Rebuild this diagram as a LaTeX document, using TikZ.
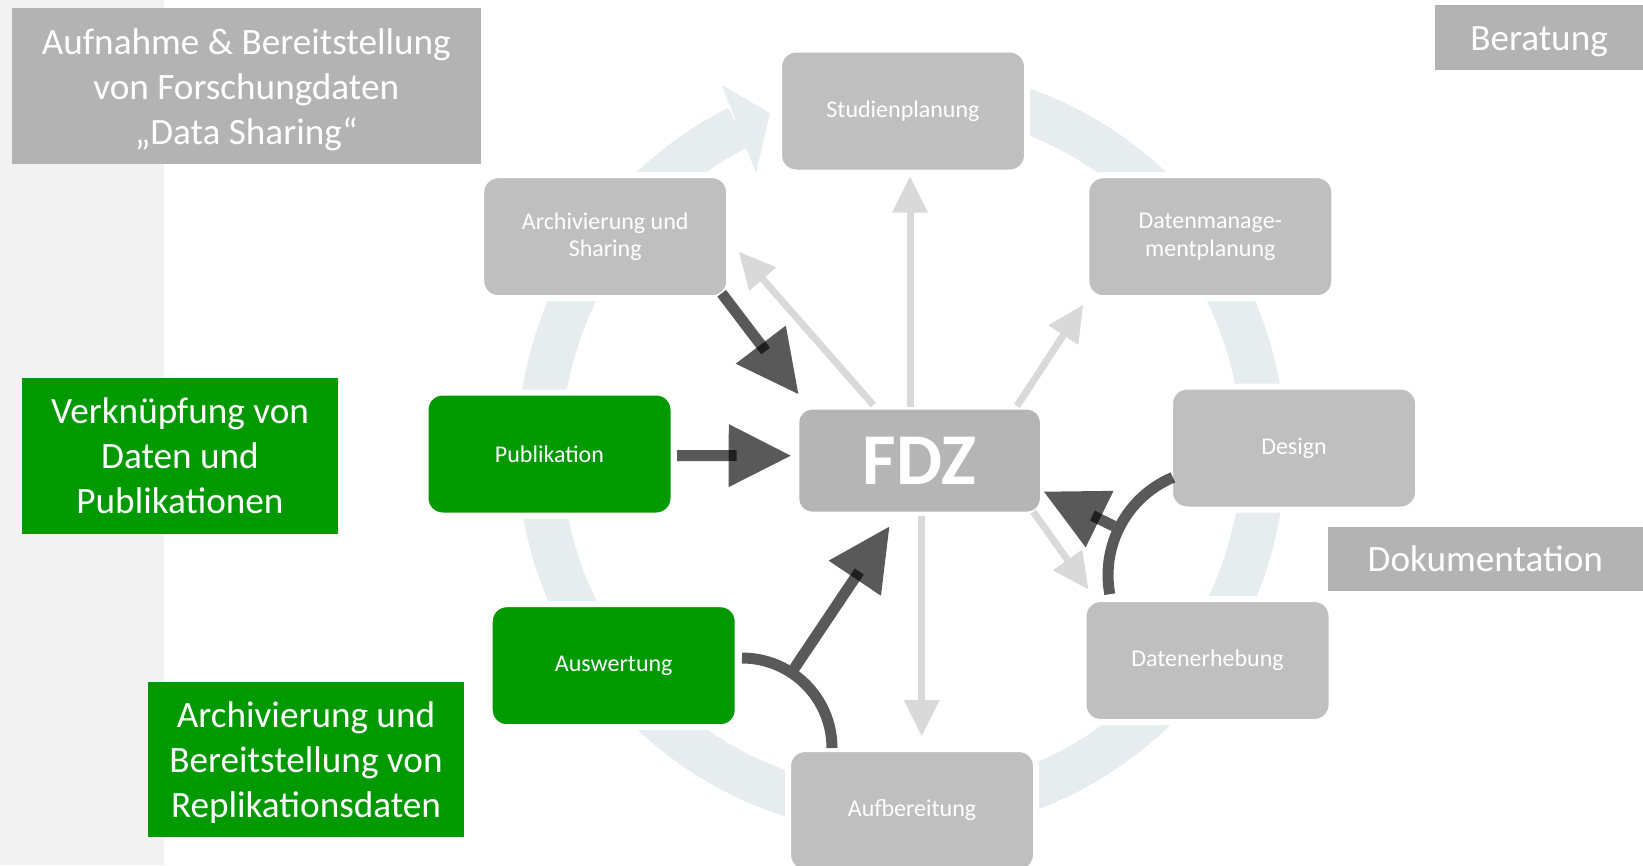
\documentclass[tikz,border=0pt]{standalone}
\usepackage{fontspec}
\setmainfont{Carlito}
\usetikzlibrary{calc}
\definecolor{stripgray}{HTML}{F2F2F2}
\definecolor{labelgray}{HTML}{B3B3B3}
\definecolor{nodegray}{HTML}{BFBFBF}
\definecolor{fdzgray}{HTML}{B5B5B5}
\definecolor{ringcol}{HTML}{E7ECEF}
\definecolor{lightarr}{HTML}{D9D9D9}
\definecolor{fdzgreen}{HTML}{009A00}
\begin{document}
\begin{tikzpicture}[x=1pt,y=-1pt,
  labelbox/.style={fill=labelgray, inner sep=0pt},
  greenlabel/.style={fill=fdzgreen, inner sep=0pt},
  labeltext/.style={text=white, align=center, inner sep=0pt, font=\fontsize{37.2}{45}\selectfont},
  cyc/.style={fill=nodegray, draw=white, line width=6pt, rounded corners=17pt, minimum width=248pt, minimum height=123pt, text=white, align=center, inner sep=0pt, font=\fontsize{24}{27.5}\selectfont},
  cycgreen/.style={cyc, fill=fdzgreen},
  darkline/.style={draw=black, draw opacity=0.65, line width=11pt},
  darkhead/.style={fill=black, fill opacity=0.65},
  lightline/.style={draw=lightarr, line width=7pt},
  lighthead/.style={fill=lightarr},
  ringstroke/.style={draw=ringcol, line width=44pt},
]
\useasboundingbox (0,0) rectangle (1643,865);
\clip (0,0) rectangle (1643,865);
\fill[stripgray] (0,0) rectangle (164,865);

% ring
\coordinate (rc) at (901.5,450.5);
\draw[ringstroke] (rc) ++(243.2:362) arc[start angle=243.2, end angle=-107, radius=362];
\coordinate (rh1) at (721.7,85);
\coordinate (rh2) at (770,113.3);
\coordinate (rh3) at (756,172.7);
\fill[ringcol] (rh1) -- (rh2) -- (rh3) -- cycle;

% cycle nodes
\node[cyc] (studien) at (903,111) {Studienplanung};
\node[cyc] (dmp) at (1210.3,236.7) {Datenmanage-\\mentplanung};
\node[cyc] (design) at (1294,448) {Design};
\node[cyc] (erhebung) at (1207.5,660.5) {Datenerhebung};
\node[cyc] (aufb) at (912,810.5) {Aufbereitung};
\node[cycgreen] (ausw) at (613.7,665.7) {Auswertung};
\node[cycgreen] (publ) at (549.5,454) {Publikation};
\node[cyc] (archiv) at (605.2,236.7) {Archivierung und\\Sharing};

\node[fill=fdzgray, rounded corners=13pt, minimum width=240.7pt, minimum height=102pt, inner sep=0pt, text=white, font=\bfseries\fontsize{73}{73}\selectfont] (fdz) at (919.6,460.6) {FDZ};

% label boxes
\node[labelbox, minimum width=469.5pt, minimum height=156pt] (tl) at (246.25,86) {};
\node[labeltext] (tltext) at ($(tl)+(0,3.5)$) {Aufnahme \& Bereitstellung\\von Forschungdaten\\„Data Sharing“};
\node[labelbox, minimum width=208pt, minimum height=65pt] (ber) at (1539,37.5) {};
\node[labeltext] (bertext) at ($(ber)+(0,4)$) {Beratung};
\node[labelbox, minimum width=315.5pt, minimum height=63.5pt] (doku) at (1485.3,558.8) {};
\node[labeltext] (dokutext) at (doku) {Dokumentation};
\node[greenlabel, minimum width=316pt, minimum height=155.5pt] (verkn) at (180,455.75) {};
\node[labeltext] (verkntext) at (verkn) {Verknüpfung von\\Daten und\\Publikationen};
\node[greenlabel, minimum width=316pt, minimum height=155pt] (replik) at (306,759.5) {};
\node[labeltext] (repliktext) at ($(replik)+(0,3.5)$) {Archivierung und\\Bereitstellung von\\Replikationsdaten};

% light arrows from FDZ
\coordinate (l1s) at (910,407);     \coordinate (l1t) at (910,176.7);
\coordinate (l2s) at (1017,406);    \coordinate (l2t) at (1083,305);
\coordinate (l3s) at (873.3,405);   \coordinate (l3t) at (739,252);
\coordinate (l4s) at (921.7,516);   \coordinate (l4t) at (921.7,736);
\coordinate (l5s) at (1033.3,511.7);\coordinate (l5t) at (1088.3,589.3);
\foreach \i in {1,...,5}{
  \draw[lightline] (l\i s) -- ($(l\i t)!34pt!(l\i s)$);
  \fill[lighthead] (l\i t) -- ($(l\i t)!36pt!(l\i s)!18pt!90:(l\i t)$) -- ($(l\i t)!36pt!(l\i s)!18pt!-90:(l\i t)$) -- cycle;
}

% dark arrows into FDZ
\coordinate (dAs) at (721.7,293.3); \coordinate (dAt) at (798.3,394);
\coordinate (dBs) at (677,455.5);   \coordinate (dBt) at (790.7,455.7);
\coordinate (dCs) at (794.4,668.2); \coordinate (dCt) at (889.3,526.7);
\coordinate (dDs) at (1113.8,526.1);\coordinate (dDt) at (1044,491.7);
% arcs
\coordinate (c0) at (742,658);
\draw[darkline] (c0) arc[start angle=-90, end angle=0, radius=90];
\coordinate (d0) at (1172.8,477.4);
\draw[darkline] (d0) arc[start angle=247.1, end angle=169.6, radius=106];
\foreach \k in {A,B,C,D}{
  \draw[darkline] (d\k s) -- ($(d\k t)!54pt!(d\k s)$);
  \fill[darkhead] (d\k t) -- ($(d\k t)!62pt!(d\k s)!31.5pt!90:(d\k t)$) -- ($(d\k t)!62pt!(d\k s)!31.5pt!-90:(d\k t)$) -- cycle;
}
\end{tikzpicture}
\end{document}
